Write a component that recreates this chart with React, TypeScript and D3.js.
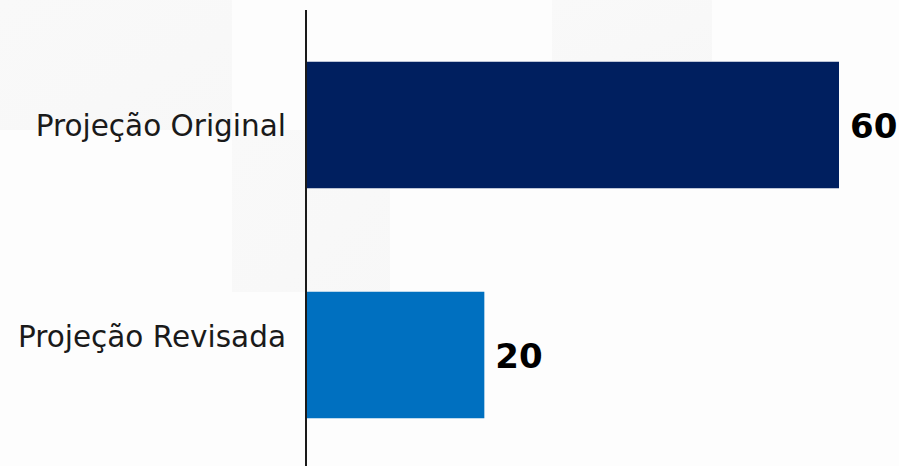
import React from "react";
import * as d3 from "d3";

const categories = ["Projeção Original", "Projeção Revisada"];
const values = [60, 20];
const barColors = ["#001f5f", "#0070c0"];

const W = 899;
const H = 466;
const axisX = 306;

export default function App() {
  const y = d3.scaleBand<string>().domain(categories).range([10, 470]).paddingInner(0.45).paddingOuter(0.225);
  const x = d3.scaleLinear().domain([0, 60]).range([axisX + 1, 839]);
  // tick labels sit on their own positions in the source
  const yTick = d3.scalePoint<string>().domain(categories).range([125, 336]);

  return (
    <svg width={W} height={H} style={{ position: "absolute", left: 0, top: 0, background: "#fdfdfd" }}>
      <defs>
        <linearGradient id="bgfade" x1="0" y1="0" x2="1" y2="1">
          <stop offset="0" stopColor="#f8f8f8" />
          <stop offset="1" stopColor="#f6f6f6" />
        </linearGradient>
      </defs>
      <rect x={0} y={0} width={W} height={H} fill="#fdfdfd" />
      <rect x={0} y={0} width={232} height={130} fill="url(#bgfade)" opacity={0.8} />
      <rect x={232} y={130} width={158} height={162} fill="url(#bgfade)" opacity={0.8} />
      <rect x={552} y={0} width={160} height={61} fill="url(#bgfade)" opacity={0.8} />
      {categories.map((c, i) => (
        <rect key={c} x={x(0)} y={y(c)} width={x(values[i]) - x(0)} height={y.bandwidth()} fill={barColors[i]} />
      ))}
      <line x1={axisX} x2={axisX} y1={10} y2={H} stroke="#1a1a1a" strokeWidth={2} />
      {categories.map((c) => (
        <text key={c} x={286} y={(yTick(c) as number) + 10.5} textAnchor="end" fontFamily="'DejaVu Sans', sans-serif" fontSize={29.5} fill="#1a1a1a">
          {c}
        </text>
      ))}
      {categories.map((c, i) => (
        <text key={c} x={x(values[i]) + 11} y={(y(c) as number) + y.bandwidth() / 2 + 12.5} fontFamily="'DejaVu Sans', sans-serif" fontWeight="bold" fontSize={34} fill="#000">
          {values[i]}
        </text>
      ))}
    </svg>
  );
}
